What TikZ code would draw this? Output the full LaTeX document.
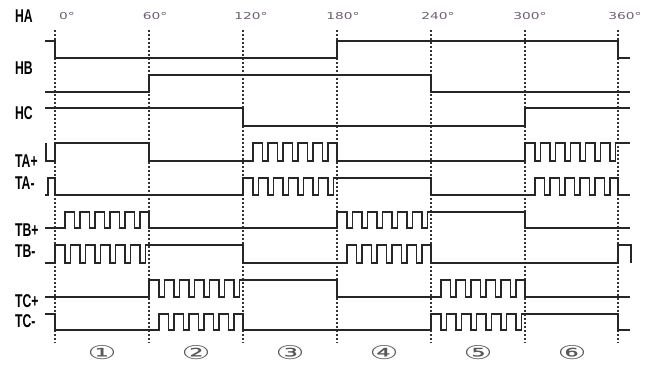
\documentclass[tikz,border=0pt]{standalone}
\usepackage{fontspec}
\setmainfont{Liberation Sans}
\newfontfamily\dejavu{DejaVu Sans}
\definecolor{degc}{RGB}{110,95,115}
\begin{document}
\begin{tikzpicture}[x=1pt,y=-1pt,
  sig/.style={line width=1.5pt, draw=black!85, line join=miter},
  gridline/.style={line width=2pt, draw=black!80, dash pattern=on 2pt off 2pt},
  lab/.style={anchor=west, font=\bfseries\fontsize{18.5}{18.5}\selectfont, xscale=0.66, inner sep=0pt},
  deg/.style={font=\dejavu\fontsize{9.5}{9.5}\selectfont, text=degc, xscale=1.45, inner sep=0pt},
  circnum/.style={font=\dejavu\fontsize{19}{19}\selectfont, text=black!65, xscale=1.7, inner sep=0pt},
  pulseup/.style n args={4}{insert path={ foreach \k in {0,...,4}{ -- ({#1+10+15*\k},#3) -- ({#1+10+15*\k},#2) -- ({#1+19.5+15*\k},#2) -- ({#1+19.5+15*\k},#3) } -- ({#1+85},#3) -- ({#1+85},#2) -- (#4,#2) }},
  pulsedip/.style n args={4}{insert path={ foreach \k in {0,...,5}{ -- ({#1+10+15*\k},#2) -- ({#1+10+15*\k},#3) -- ({#1+15.5+15*\k},#3) -- ({#1+15.5+15*\k},#2) } -- (#4,#2) }},
]
\useasboundingbox (0,0) rectangle (662,365);
\fill[white] (0,0) rectangle (662,365);

% dotted sector lines
\foreach \x in {55,149,243,337,431,525,618}
  \draw[gridline] (\x,30) -- (\x,343);

% degree labels
\node[deg] (d0)   at (67,16)  {0°};
\node[deg] (d60)  at (155,16) {60°};
\node[deg] (d120) at (251,16) {120°};
\node[deg] (d180) at (343,16) {180°};
\node[deg] (d240) at (438,16) {240°};
\node[deg] (d300) at (530,16) {300°};
\node[deg] (d360) at (625,16) {360°};

% signal labels
\node[lab] (lHA)  at (15,16)  {HA};
\node[lab] (lHB)  at (15,68)  {HB};
\node[lab] (lHC)  at (15,113) {HC};
\node[lab] (lTAp) at (15,161) {TA+};
\node[lab] (lTAm) at (15,183) {TA-};
\node[lab] (lTBp) at (15,230) {TB+};
\node[lab] (lTBm) at (15,251) {TB-};
\node[lab] (lTCp) at (15,301) {TC+};
\node[lab] (lTCm) at (15,321) {TC-};

% hall signals
\draw[sig] (45,41) -- (55,41) -- (55,58) -- (337,58) -- (337,41) -- (618,41) -- (618,58) -- (630,58);
\draw[sig] (45,92) -- (149,92) -- (149,75) -- (431,75) -- (431,92) -- (630,92);
\draw[sig] (45,108) -- (243,108) -- (243,126) -- (525,126) -- (525,108) -- (630,108);

% TA+
\draw[sig] (46,143) -- (46,161) -- (55,161) -- (55,143) -- (149,143) -- (149,161) -- (243,161)
  [pulseup={243}{143}{161}{337}] -- (337,161) -- (525,161) -- (525,143)
  [pulsedip={525}{143}{161}{618}] -- (630,143);
% TA-
\draw[sig] (45,195) -- (48,195) -- (48,178) -- (55,178) -- (55,195) -- (243,195) -- (243,178)
  [pulsedip={243}{178}{195}{337}] -- (431,178) -- (431,195) -- (525,195)
  [pulseup={525}{178}{195}{618}] -- (618,195) -- (630,195);
% TB+
\draw[sig] (45,228) -- (55,228)
  [pulseup={55}{212}{228}{149}] -- (149,228) -- (337,228) -- (337,212)
  [pulsedip={337}{212}{228}{431}] -- (525,212) -- (525,228) -- (630,228);
% TB-
\draw[sig] (45,263) -- (55,263) -- (55,245)
  [pulsedip={55}{245}{263}{149}] -- (243,245) -- (243,263) -- (337,263)
  [pulseup={337}{245}{263}{431}] -- (431,263) -- (618,263) -- (618,245) -- (631,245) -- (631,263);
% TC+
\draw[sig] (45,297) -- (149,297) -- (149,280)
  [pulsedip={149}{280}{297}{243}] -- (337,280) -- (337,297) -- (431,297)
  [pulseup={431}{280}{297}{525}] -- (525,297) -- (630,297);
% TC-
\draw[sig] (45,314) -- (55,314) -- (55,330) -- (149,330)
  [pulseup={149}{314}{330}{243}] -- (243,330) -- (431,330) -- (431,314)
  [pulsedip={431}{314}{330}{525}] -- (618,314) -- (618,330) -- (630,330);

% sector numbers
\node[circnum] (s1) at (102,353) {①};
\node[circnum] (s2) at (196,353) {②};
\node[circnum] (s3) at (290,353) {③};
\node[circnum] (s4) at (384,353) {④};
\node[circnum] (s5) at (478,353) {⑤};
\node[circnum] (s6) at (572,353) {⑥};
\end{tikzpicture}
\end{document}
